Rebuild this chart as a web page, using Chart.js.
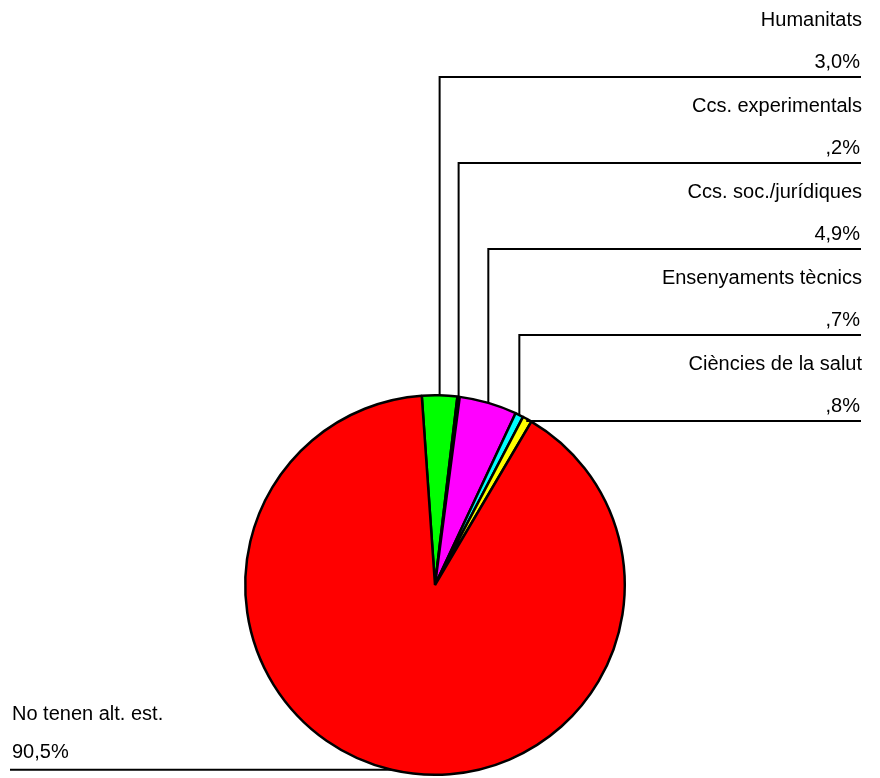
<!DOCTYPE html>
<html>
<head>
<meta charset="utf-8">
<script src="https://cdn.jsdelivr.net/npm/chart.js@4"></script>
<style>
  html, body { margin: 0; padding: 0; background: #fff; }
  #wrap { width: 880px; height: 778px; }
</style>
</head>
<body>
<div id="wrap"><canvas id="pie"></canvas></div>
<script>
// Dades del gràfic
const categories = ['Humanitats', 'Ccs. experimentals', 'Ccs. soc./jurídiques', 'Ensenyaments tècnics', 'Ciències de la salut', 'No tenen alt. est.'];
const percentValues = [3.0, 0.2, 4.9, 0.7, 0.8, 90.5];
const percentLabels = ['3,0%', ',2%', '4,9%', ',7%', ',8%', '90,5%'];
const sliceColors = ['#00ff00', '#000080', '#ff00ff', '#00ffff', '#ffff00', '#ff0000'];

const FONT = '20px "Liberation Sans", Arial, sans-serif';

// Etiquetes amb línia de referència
const leaderLabels = {
    id: 'leaderLabels',
    afterDraw(chart) {
        const ctx = chart.ctx;
        const arcs = chart.getDatasetMeta(0).data;
        ctx.save();
        ctx.font = FONT;
        ctx.fillStyle = '#000';
        ctx.strokeStyle = '#000';
        ctx.lineWidth = 2;
        ctx.textBaseline = 'middle';

        arcs.forEach((arc, i) => {
            const p = arc.getProps(['x', 'y', 'startAngle', 'endAngle', 'outerRadius'], true);
            const mid = (p.startAngle + p.endAngle) / 2;
            const px = p.x + Math.cos(mid) * p.outerRadius;
            const py = p.y + Math.sin(mid) * p.outerRadius;

            if (i < arcs.length - 1) {
                // etiquetes a la dreta, apilades
                const lineY = 77 + i * 86;
                ctx.beginPath();
                ctx.moveTo(px, py);
                ctx.lineTo(px, lineY);
                ctx.lineTo(861, lineY);
                ctx.stroke();
                ctx.textAlign = 'right';
                ctx.fillText(categories[i], 862, lineY - 57);
                ctx.fillText(percentLabels[i], 860, lineY - 15);
            } else {
                // etiqueta gran a l'esquerra
                const lineY = py;
                ctx.beginPath();
                ctx.moveTo(px, lineY);
                ctx.lineTo(10, lineY);
                ctx.stroke();
                ctx.textAlign = 'left';
                ctx.fillText(categories[i], 12, lineY - 55);
                ctx.fillText(percentLabels[i], 12, lineY - 17);
            }
        });
        ctx.restore();
    }
};

const chart = new Chart(document.getElementById('pie'), {
    type: 'pie',
    data: {
        labels: categories,
        datasets: [{
            data: percentValues,
            backgroundColor: sliceColors,
            borderColor: '#000',
            borderWidth: 2.5
        }]
    },
    options: {
        responsive: true,
        maintainAspectRatio: false,
        animation: false,
        rotation: -4,
        layout: { padding: { left: 244, right: 254, top: 394, bottom: 2 } },
        plugins: {
            legend: { display: false },
            tooltip: { enabled: false }
        }
    },
    plugins: [leaderLabels]
});
</script>
</body>
</html>
